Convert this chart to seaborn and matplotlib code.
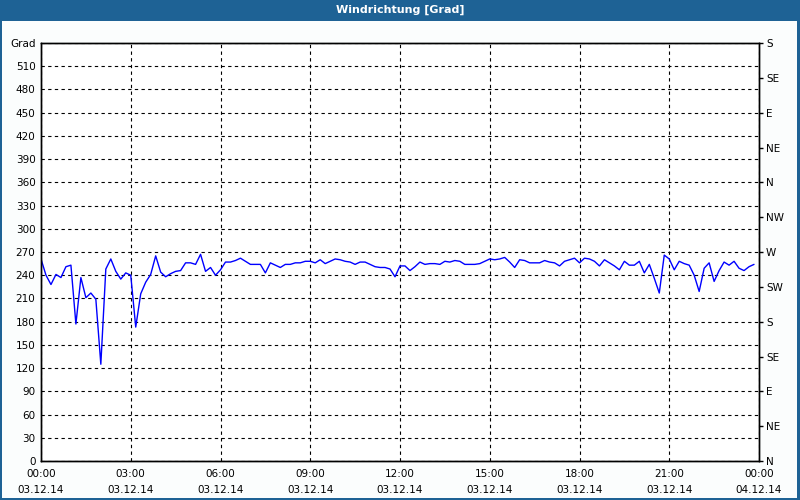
import numpy as np
import pandas as pd
import seaborn as sns
import matplotlib
matplotlib.use('Agg')
import matplotlib.pyplot as plt
from matplotlib.patches import Rectangle
from matplotlib.ticker import MultipleLocator

# --- data: wind direction every 10 minutes, 03.12.14 ---
richtung = [261, 240, 228, 241, 237, 251, 253, 177, 237, 211, 217, 209, 125, 248, 261, 245, 235, 243,
            240, 173, 216, 231, 241, 265, 244, 238, 242, 245, 246, 256, 256, 254, 267, 245, 250, 240,
            247, 257, 257, 259, 262, 258, 254, 254, 254, 243, 256, 253, 250, 254, 254, 256, 256, 258,
            258, 256, 260, 255, 258, 261, 260, 258, 257, 254, 257, 257, 254, 251, 250, 250, 248, 238,
            252, 252, 246, 251, 257, 254, 255, 255, 254, 258, 257, 259, 258, 254, 254, 254, 255, 258,
            261, 260, 261, 263, 257, 250, 260, 259, 256, 256, 256, 259, 257, 256, 252, 258, 260, 262,
            256, 262, 261, 258, 252, 260, 256, 252, 247, 258, 253, 253, 258, 243, 254, 236, 217, 266,
            261, 247, 258, 255, 253, 240, 219, 249, 256, 232, 246, 257, 253, 258, 249, 246, 251, 254]
stunden = [i / 6 for i in range(len(richtung))]

grad_ticks = list(range(0, 541, 30))
grad_labels = [str(g) for g in range(0, 511, 30)] + ['Grad']
himmel_ticks = list(range(0, 541, 45))
himmel_labels = ['N', 'NE', 'E', 'SE', 'S', 'SW', 'W', 'NW', 'N', 'NE', 'E', 'SE', 'S']
zeit_ticks = list(range(0, 25, 3))
zeit_labels = ['00:00\n03.12.14', '03:00\n03.12.14', '06:00\n03.12.14', '09:00\n03.12.14',
               '12:00\n03.12.14', '15:00\n03.12.14', '18:00\n03.12.14', '21:00\n03.12.14',
               '00:00\n04.12.14']

df = pd.DataFrame({'Stunde': stunden, 'Richtung': richtung})

sns.set_style('white')
plt.rcParams['font.family'] = ['DejaVu Sans']

fig = plt.figure(figsize=(8, 5), dpi=100)
fig.patch.set_facecolor('#1e6295')
fig.patches.append(Rectangle((2 / 800, 2 / 500), 795 / 800, 477 / 500,
                             transform=fig.transFigure, facecolor='#fbfdfd',
                             edgecolor='none', zorder=-10))
fig.text(0.5, 1 - 10 / 500, 'Windrichtung [Grad]', color='white', fontsize=8,
         fontweight='bold', ha='center', va='center')

ax = fig.add_axes([41 / 800, 1 - 461 / 500, 718 / 800, 418 / 500])
ax.set_facecolor('white')
sns.lineplot(data=df, x='Stunde', y='Richtung', ax=ax, color='#0000ff', linewidth=1)

ax.set_xlim(0, 24)
ax.set_ylim(0, 540)
ax.set_xlabel('')
ax.set_ylabel('')
ax.set_yticks(grad_ticks)
ax.set_yticklabels(grad_labels, fontsize=7.5)
ax.set_xticks(zeit_ticks)
ax.set_xticklabels(zeit_labels, fontsize=7.5, linespacing=1.75)
ax.xaxis.set_minor_locator(MultipleLocator(1))
ax.tick_params(axis='y', which='both', length=0, pad=4, labelcolor='black')
ax.tick_params(axis='x', which='both', direction='in', length=4, width=1, pad=6,
               color='black', labelcolor='black')
ax.grid(True, which='major', color='black', linestyle=(0, (3, 3)), linewidth=0.8)
for s in ax.spines.values():
    s.set_color('black')
    s.set_linewidth(1)

ax2 = ax.twinx()
ax2.set_ylim(0, 540)
ax2.set_yticks(himmel_ticks)
ax2.set_yticklabels(himmel_labels, fontsize=7.5)
ax2.tick_params(axis='y', direction='out', length=3, width=1, pad=2,
                color='black', labelcolor='black')
for s in ax2.spines.values():
    s.set_color('black')
    s.set_linewidth(1)

fig.savefig('out.png', dpi=100, facecolor=fig.get_facecolor())
